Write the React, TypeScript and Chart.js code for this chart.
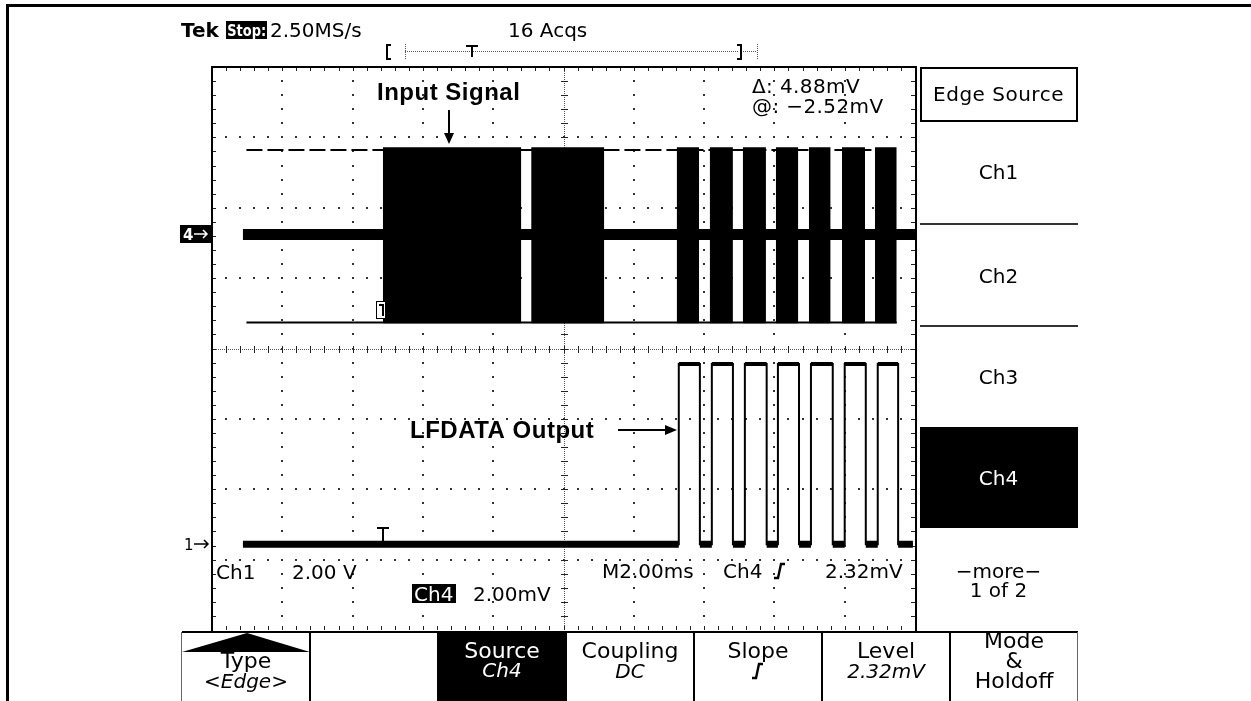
import React, { useEffect, useRef } from 'react';
import { Chart, registerables } from 'chart.js';

Chart.register(...registerables);

// ---- Data (screen divisions: time 0..10 div at 2.00 ms/div, amplitude -4..4 div) ----
const timeRange = [0, 10];
const ampRange = [-4, 4];

// Ch4 (input signal, 2.00 mV/div)
const ch4Ground = 1.62;
const ch4TraceStart = 0.44;
const ch4TraceEnd = 10.0;
const ch4EnvelopeStart = 0.49;
const ch4EnvelopeEnd = 9.74;
const ch4EnvelopeTop = 2.82;
const ch4EnvelopeBottom = 0.37;
const ch4BurstTop = 2.86;
const ch4BurstBottom = 0.36;
const ch4BurstStart = [2.43, 4.54, 6.61, 7.08, 7.55, 8.02, 8.49, 8.96, 9.43];
const ch4BurstEnd = [4.40, 5.58, 6.93, 7.41, 7.88, 8.34, 8.80, 9.29, 9.74];

// Ch1 (LFDATA output, 2.00 V/div)
const ch1Low = -2.78;
const ch1High = -0.22;
const ch1Start = 0.44;
const ch1End = 9.97;
const ch1Edges = [6.64, 6.94, 7.11, 7.41, 7.58, 7.89, 8.05, 8.35, 8.52, 8.83, 9.0, 9.3, 9.47, 9.76];

// Texts
const headerTexts = ['Tek', 'Stop:', '2.50MS/s', '16 Acqs'];
const cursorTexts = ['\u0394: 4.88mV', '@: \u22122.52mV'];
const sideMenu = ['Edge Source', 'Ch1', 'Ch2', 'Ch3', 'Ch4', '\u2212more\u2212', '1 of 2'];
const bottomMenu = [
  ['Type', '<Edge>'],
  ['', ''],
  ['Source', 'Ch4'],
  ['Coupling', 'DC'],
  ['Slope', ''],
  ['Level', '2.32mV'],
  ['Mode', '&', 'Holdoff'],
];
const readouts = ['Ch1', '2.00 V', 'Ch4', '2.00mV', 'M2.00ms', 'Ch4', '2.32mV'];
const annotations = ['Input Signal', 'LFDATA Output'];

const TF = '"DejaVu Sans", "Noto Sans", sans-serif';
const AF = '"Liberation Sans", Arial, sans-serif';

function txt(ctx: CanvasRenderingContext2D, s: string, x: number, y: number, font: string, color = '#000', align: CanvasTextAlign = 'left', spacing = 0) {
  ctx.save();
  ctx.font = font;
  ctx.fillStyle = color;
  ctx.textAlign = align;
  ctx.textBaseline = 'alphabetic';
  if (spacing) (ctx as any).letterSpacing = spacing + 'px';
  ctx.fillText(s, x, y);
  ctx.restore();
}

// draws text so its ink spans exactly x0..x1
function fitTxt(ctx: CanvasRenderingContext2D, s: string, x0: number, x1: number, y: number, font: string, color = '#000') {
  ctx.save();
  ctx.font = font;
  ctx.fillStyle = color;
  ctx.textBaseline = 'alphabetic';
  ctx.textAlign = 'left';
  const m = ctx.measureText(s);
  const ink = m.actualBoundingBoxLeft + m.actualBoundingBoxRight;
  const sx = (x1 - x0) / ink;
  ctx.translate(x0 + m.actualBoundingBoxLeft * sx, y);
  ctx.scale(sx, 1);
  ctx.fillText(s, 0, 0);
  ctx.restore();
}

function slopeGlyph(ctx: CanvasRenderingContext2D, cx: number, cy: number) {
  ctx.save();
  ctx.strokeStyle = '#000';
  ctx.lineWidth = 2.4;
  ctx.lineJoin = 'miter';
  ctx.beginPath();
  ctx.moveTo(cx - 6, cy + 7);
  ctx.lineTo(cx - 2, cy + 7);
  ctx.lineTo(cx + 1, cy - 7);
  ctx.lineTo(cx + 5, cy - 7);
  ctx.stroke();
  ctx.restore();
}

const tekPlugin = {
  id: 'tekScreen',
  beforeDraw(chart: any) {
    const ctx = chart.ctx as CanvasRenderingContext2D;
    ctx.save();
    ctx.fillStyle = '#fff';
    ctx.fillRect(0, 0, chart.width, chart.height);
    ctx.restore();
  },
  beforeDatasetsDraw(chart: any) {
    const ctx = chart.ctx as CanvasRenderingContext2D;
    const { left: L, right: R, top: T, bottom: B } = chart.chartArea;
    const dx = (R - L) / 10;
    const dy = (B - T) / 8;
    ctx.save();
    ctx.fillStyle = '#333';
    for (let i = 1; i < 10; i++) {
      if (i === 5) continue;
      const x = Math.round(L + i * dx);
      for (let k = 1; k < 40; k++) {
        const y = Math.round(T + (k * dy) / 5);
        ctx.fillRect(x - 1, y - 1, 2, 2);
      }
    }
    for (let j = 1; j < 8; j++) {
      if (j === 4) continue;
      const y = Math.round(T + j * dy);
      for (let k = 1; k < 50; k++) {
        const x = Math.round(L + (k * dx) / 5);
        ctx.fillRect(x - 1, y - 1, 2, 2);
      }
    }
    // centre lines
    const cx = Math.round(L + 5 * dx);
    const cy = Math.round(T + 4 * dy);
    ctx.fillStyle = '#555';
    for (let y = T; y < B; y += 2) ctx.fillRect(cx, y, 1, 1);
    for (let x = L; x < R; x += 2) ctx.fillRect(x, cy, 1, 1);
    ctx.fillStyle = '#222';
    for (let k = 1; k < 40; k++) {
      const y = Math.round(T + (k * dy) / 5);
      ctx.fillRect(cx - 3, y, 7, 1);
    }
    for (let k = 1; k < 50; k++) {
      const x = Math.round(L + (k * dx) / 5);
      ctx.fillRect(x, cy - 3, 1, 7);
    }
    // border ticks
    for (let k = 1; k < 40; k++) {
      const y = Math.round(T + (k * dy) / 5);
      ctx.fillRect(L, y, 4, 1);
      ctx.fillRect(R - 4, y, 4, 1);
    }
    for (let k = 1; k < 50; k++) {
      const x = Math.round(L + (k * dx) / 5);
      ctx.fillRect(x, T, 1, 4);
      ctx.fillRect(x, B - 4, 1, 4);
    }
    ctx.restore();
  },
  afterDraw(chart: any) {
    const ctx = chart.ctx as CanvasRenderingContext2D;
    const ys = chart.scales.y;
    const xs = chart.scales.x;
    ctx.save();
    ctx.fillStyle = '#000';
    // outer frame
    ctx.fillRect(6, 4, 1245, 3);
    ctx.fillRect(6, 4, 3, 697);
    // screen border
    ctx.fillRect(211, 66, 706, 2);
    ctx.fillRect(211, 66, 2, 566);
    ctx.fillRect(915, 66, 2, 566);
    ctx.fillRect(182, 631, 896, 2);

    // header
    txt(ctx, headerTexts[0], 181, 37, `bold 20px ${TF}`);
    ctx.fillStyle = '#000';
    ctx.fillRect(226, 21, 41, 18);
    fitTxt(ctx, headerTexts[1], 228, 265, 36, `bold 16px ${TF}`, '#fff');
    txt(ctx, headerTexts[2], 270, 37, `20px ${TF}`);
    txt(ctx, headerTexts[3], 508, 37, `20px ${TF}`);

    // record view bar
    ctx.fillStyle = '#000';
    ctx.fillRect(386, 44, 2, 16);
    ctx.fillRect(386, 44, 5, 2);
    ctx.fillRect(386, 58, 5, 2);
    ctx.fillStyle = '#555';
    for (let y = 44; y < 60; y += 2) ctx.fillRect(405, y, 1, 1);
    for (let x = 405; x < 739; x += 2) ctx.fillRect(x, 51, 1, 1);
    for (let x = 743; x < 757; x += 2) ctx.fillRect(x, 51, 1, 1);
    for (let y = 44; y < 60; y += 2) ctx.fillRect(757, y, 1, 1);
    ctx.fillStyle = '#000';
    ctx.fillRect(740, 44, 2, 16);
    ctx.fillRect(737, 44, 5, 2);
    ctx.fillRect(737, 58, 5, 2);
    ctx.fillRect(466, 45, 12, 2);
    ctx.fillRect(471, 45, 2, 12);

    // cursor readout
    txt(ctx, cursorTexts[0], 752, 93, `20px ${TF}`, '#000', 'left', 0.4);
    txt(ctx, cursorTexts[1], 752, 113, `20px ${TF}`, '#000', 'left', 0.4);

    // channel markers
    const y4 = Math.round(ys.getPixelForValue(ch4Ground));
    ctx.fillStyle = '#000';
    ctx.fillRect(180, y4 - 9, 31, 18);
    txt(ctx, '4', 183, y4 + 6, `bold 15px ${TF}`, '#fff');
    ctx.strokeStyle = '#fff';
    ctx.lineWidth = 1.5;
    ctx.beginPath();
    ctx.moveTo(194, y4); ctx.lineTo(207, y4);
    ctx.moveTo(203, y4 - 4); ctx.lineTo(207, y4); ctx.lineTo(203, y4 + 4);
    ctx.stroke();
    const y1 = Math.round(ys.getPixelForValue(ch1Low));
    txt(ctx, '1', 184, y1 + 6, `15px ${TF}`);
    ctx.strokeStyle = '#000';
    ctx.beginPath();
    ctx.moveTo(194, y1); ctx.lineTo(208, y1);
    ctx.moveTo(204, y1 - 4); ctx.lineTo(208, y1); ctx.lineTo(204, y1 + 4);
    ctx.stroke();

    // trigger markers
    const xt = Math.round(xs.getPixelForValue(ch4BurstStart[0]));
    ctx.fillStyle = '#000';
    ctx.fillRect(xt - 6, y1 - 17, 12, 2);
    ctx.fillRect(xt - 1, y1 - 17, 2, 14);
    ctx.fillStyle = '#fff';
    ctx.fillRect(xt - 7, 301, 9, 17);
    ctx.strokeStyle = '#000';
    ctx.lineWidth = 1;
    ctx.strokeRect(xt - 6.5, 301.5, 9, 17);
    ctx.fillStyle = '#000';
    ctx.fillRect(xt - 4, 304, 5, 2);
    ctx.fillRect(xt - 1, 304, 2, 12);

    // on-screen readouts
    txt(ctx, readouts[0], 216, 579, `20px ${TF}`);
    txt(ctx, readouts[1], 292, 579, `20px ${TF}`);
    ctx.fillStyle = '#000';
    ctx.fillRect(412, 584, 44, 19);
    txt(ctx, readouts[2], 414, 601, `20px ${TF}`, '#fff');
    txt(ctx, readouts[3], 473, 601, `20px ${TF}`);
    txt(ctx, readouts[4], 602, 578, `20px ${TF}`);
    txt(ctx, readouts[5], 723, 578, `20px ${TF}`);
    slopeGlyph(ctx, 780, 571);
    txt(ctx, readouts[6], 825, 578, `20px ${TF}`);

    // annotations
    txt(ctx, annotations[0], 377, 100, `bold 24px ${AF}`, '#000', 'left', 0.5);
    txt(ctx, annotations[1], 410, 438, `bold 24px ${AF}`, '#000', 'left', 0.5);
    ctx.strokeStyle = '#000';
    ctx.fillStyle = '#000';
    ctx.lineWidth = 2;
    ctx.beginPath(); ctx.moveTo(449, 110); ctx.lineTo(449, 136); ctx.stroke();
    ctx.beginPath(); ctx.moveTo(444, 133); ctx.lineTo(454, 133); ctx.lineTo(449, 144); ctx.closePath(); ctx.fill();
    ctx.beginPath(); ctx.moveTo(618, 430); ctx.lineTo(668, 430); ctx.stroke();
    ctx.beginPath(); ctx.moveTo(665, 425); ctx.lineTo(665, 435); ctx.lineTo(677, 430); ctx.closePath(); ctx.fill();

    // side menu
    const mx = 998.5;
    ctx.strokeStyle = '#000';
    ctx.lineWidth = 2;
    ctx.strokeRect(921, 68, 156, 53);
    txt(ctx, sideMenu[0], mx, 101, `20px ${TF}`, '#000', 'center', 0.5);
    ctx.fillStyle = '#333';
    ctx.fillRect(920, 223, 158, 2);
    ctx.fillRect(920, 325, 158, 2);
    txt(ctx, sideMenu[1], mx, 179, `20px ${TF}`, '#000', 'center');
    txt(ctx, sideMenu[2], mx, 283, `20px ${TF}`, '#000', 'center');
    txt(ctx, sideMenu[3], mx, 384, `20px ${TF}`, '#000', 'center');
    ctx.fillStyle = '#000';
    ctx.fillRect(920, 427, 158, 101);
    txt(ctx, sideMenu[4], mx, 485, `20px ${TF}`, '#fff', 'center');
    txt(ctx, sideMenu[5], mx, 578, `20px ${TF}`, '#000', 'center');
    txt(ctx, sideMenu[6], mx, 597, `20px ${TF}`, '#000', 'center');

    // bottom menu
    const bx = [182, 310, 438, 566, 694, 822, 950, 1078];
    ctx.fillStyle = '#000';
    ctx.fillRect(438, 632, 128, 69);
    for (let i = 0; i < bx.length; i++) {
      const edge = i === 0 || i === bx.length - 1;
      ctx.fillStyle = edge ? '#666' : '#000';
      ctx.fillRect(bx[i] - 1, 632, edge ? 1 : 2, 69);
    }
    ctx.fillStyle = '#000';
    ctx.beginPath(); ctx.moveTo(182, 652); ctx.lineTo(247, 633); ctx.lineTo(310, 652); ctx.closePath(); ctx.fill();
    const c = (i: number) => (bx[i] + bx[i + 1]) / 2;
    const mf = `22px ${TF}`;
    const it = `italic 20px ${TF}`;
    txt(ctx, bottomMenu[0][0], c(0), 668, mf, '#000', 'center');
    txt(ctx, bottomMenu[0][1], c(0), 688, it, '#000', 'center');
    txt(ctx, bottomMenu[2][0], c(2), 658, mf, '#fff', 'center');
    txt(ctx, bottomMenu[2][1], c(2), 677, it, '#fff', 'center');
    txt(ctx, bottomMenu[3][0], c(3), 658, mf, '#000', 'center');
    txt(ctx, bottomMenu[3][1], c(3), 678, it, '#000', 'center');
    txt(ctx, bottomMenu[4][0], c(4), 658, mf, '#000', 'center');
    slopeGlyph(ctx, c(4), 671);
    txt(ctx, bottomMenu[5][0], c(5), 658, mf, '#000', 'center');
    txt(ctx, bottomMenu[5][1], c(5), 678, it, '#000', 'center');
    txt(ctx, bottomMenu[6][0], c(6), 648, mf, '#000', 'center');
    txt(ctx, bottomMenu[6][1], c(6), 668, mf, '#000', 'center');
    txt(ctx, bottomMenu[6][2], c(6), 688, mf, '#000', 'center');
    ctx.restore();
  },
};

function buildDatasets() {
  const ds: any[] = [];
  const base = { pointRadius: 0, tension: 0, borderColor: '#000', backgroundColor: '#000', borderCapStyle: 'butt', borderJoinStyle: 'miter', fill: false, spanGaps: false };
  ds.push({ ...base, label: 'Ch4 env top', order: 10, borderWidth: 2, borderDash: [16, 5],
    data: [{ x: ch4EnvelopeStart, y: ch4EnvelopeTop }, { x: ch4EnvelopeEnd, y: ch4EnvelopeTop }] });
  ds.push({ ...base, label: 'Ch4 env bottom', order: 10, borderWidth: 2,
    data: [{ x: ch4EnvelopeStart, y: ch4EnvelopeBottom }, { x: ch4EnvelopeEnd, y: ch4EnvelopeBottom }] });
  ds.push({ ...base, label: 'Ch4 baseline', order: 9, borderWidth: 11,
    data: [{ x: ch4TraceStart, y: ch4Ground }, { x: ch4TraceEnd, y: ch4Ground }] });
  ch4BurstStart.forEach((s, i) => {
    ds.push({ ...base, label: 'Ch4 burst ' + (i + 1), order: 5, borderWidth: 0, fill: { value: ch4BurstBottom },
      data: [{ x: s, y: ch4BurstTop }, { x: ch4BurstEnd[i], y: ch4BurstTop }] });
  });
  // Ch1 low band
  const lows: any[] = [];
  const lowStarts = [ch1Start, ...ch1Edges.filter((_, i) => i % 2 === 1)];
  const lowEnds = [...ch1Edges.filter((_, i) => i % 2 === 0), ch1End];
  lowStarts.forEach((s, i) => {
    lows.push({ x: s, y: ch1Low }, { x: lowEnds[i], y: ch1Low }, { x: lowEnds[i], y: null });
  });
  ds.push({ ...base, label: 'Ch1 low', order: 4, borderWidth: 7, data: lows });
  const highs: any[] = [];
  for (let i = 0; i < ch1Edges.length; i += 2) {
    highs.push({ x: ch1Edges[i], y: ch1High }, { x: ch1Edges[i + 1], y: ch1High }, { x: ch1Edges[i + 1], y: null });
  }
  ds.push({ ...base, label: 'Ch1 high', order: 4, borderWidth: 4, data: highs });
  const wave: any[] = [{ x: ch1Start, y: ch1Low }];
  let level = ch1Low;
  ch1Edges.forEach((e) => {
    wave.push({ x: e, y: level });
    level = level === ch1Low ? ch1High : ch1Low;
    wave.push({ x: e, y: level });
  });
  wave.push({ x: ch1End, y: level });
  ds.push({ ...base, label: 'Ch1', order: 3, borderWidth: 2, data: wave });
  return ds;
}

export default function App() {
  const ref = useRef<HTMLCanvasElement | null>(null);
  useEffect(() => {
    if (!ref.current) return;
    const chart = new Chart(ref.current, {
      type: 'line',
      data: { datasets: buildDatasets() },
      options: {
        responsive: false,
        maintainAspectRatio: false,
        animation: false,
        devicePixelRatio: 1,
        layout: { padding: { left: 212, right: 336, top: 67, bottom: 71 } },
        scales: {
          x: { type: 'linear', min: timeRange[0], max: timeRange[1], display: false },
          y: { type: 'linear', min: ampRange[0], max: ampRange[1], display: false },
        },
        plugins: { legend: { display: false }, tooltip: { enabled: false }, title: { display: false } },
        elements: { point: { radius: 0 } },
      } as any,
      plugins: [tekPlugin as any],
    });
    return () => chart.destroy();
  }, []);
  return (
    <div style={{ position: 'absolute', left: 0, top: 0, width: 1251, height: 701, background: '#fff' }}>
      <canvas ref={ref} width={1251} height={701} style={{ display: 'block', width: 1251, height: 701 }} />
    </div>
  );
}
